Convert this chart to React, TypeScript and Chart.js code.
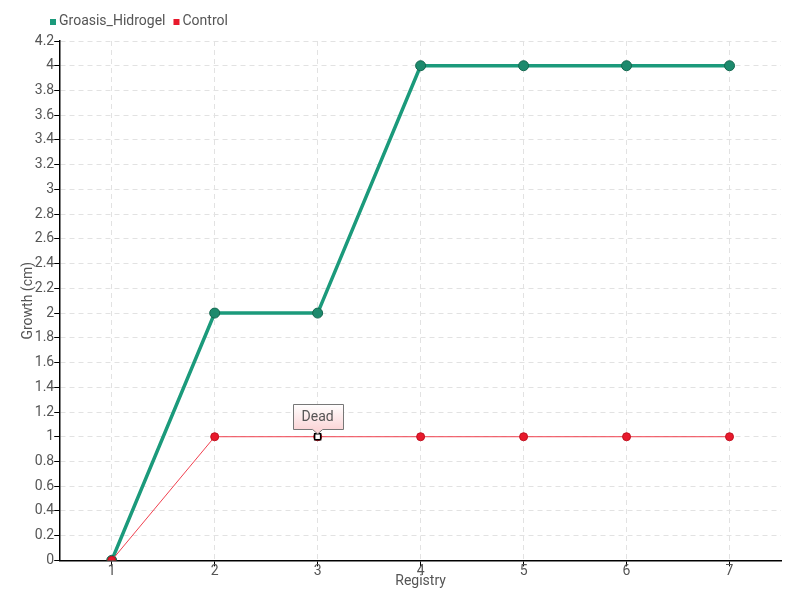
import React, { useEffect, useRef } from "react";
import { Chart, registerables } from "chart.js";

Chart.register(...registerables);

const categories = ["1", "2", "3", "4", "5", "6", "7"];
const groasisValues = [0, 2, 2, 4, 4, 4, 4];
const controlValues = [0, 1, 1, 1, 1, 1, 1];
const annotationIndex = 2;
const annotationText = "Dead";

const FONT = "Roboto, 'Liberation Sans Narrow', 'DejaVu Sans Condensed', sans-serif";
const TEXT = "#555";

const annotationPlugin = {
  id: "deadNote",
  afterDatasetsDraw(chart: any) {
    const { ctx, scales } = chart;
    const x = scales.x.getPixelForValue(annotationIndex);
    const y = scales.y.getPixelForValue(controlValues[annotationIndex]);
    ctx.save();
    ctx.fillStyle = "#fff";
    ctx.strokeStyle = "#000";
    ctx.lineWidth = 1.5;
    ctx.fillRect(x - 3, y - 3, 6, 6);
    ctx.strokeRect(x - 3, y - 3, 6, 6);
    const w = 50, h = 25;
    const bx = Math.round(x - w / 2);
    const by = Math.round(y - 33);
    const grad = ctx.createLinearGradient(0, by, 0, by + h);
    grad.addColorStop(0, "#ffffff");
    grad.addColorStop(1, "#fbd6d8");
    ctx.beginPath();
    ctx.moveTo(bx + 0.5, by + 0.5);
    ctx.lineTo(bx + w + 0.5, by + 0.5);
    ctx.lineTo(bx + w + 0.5, by + h + 0.5);
    ctx.lineTo(x + 5, by + h + 0.5);
    ctx.lineTo(x, by + h + 5);
    ctx.lineTo(x - 5, by + h + 0.5);
    ctx.lineTo(bx + 0.5, by + h + 0.5);
    ctx.closePath();
    ctx.fillStyle = grad;
    ctx.fill();
    ctx.strokeStyle = "#777";
    ctx.lineWidth = 1;
    ctx.stroke();
    ctx.fillStyle = "#555";
    ctx.font = `14px ${FONT}`;
    ctx.textAlign = "center";
    ctx.textBaseline = "middle";
    ctx.fillText(annotationText, x, by + h / 2 + 1);
    ctx.restore();
  },
};

const legendPlugin = {
  id: "topLegend",
  afterDraw(chart: any) {
    const { ctx } = chart;
    ctx.save();
    ctx.font = `14px ${FONT}`;
    ctx.textBaseline = "middle";
    ctx.textAlign = "left";
    let x = 50;
    const y = 21;
    chart.data.datasets.forEach((ds: any) => {
      ctx.fillStyle = ds.backgroundColor;
      ctx.fillRect(x, y - 2, 6, 6);
      x += 9;
      ctx.fillStyle = TEXT;
      ctx.fillText(ds.label, x, y);
      x += ctx.measureText(ds.label).width + 8;
    });
    ctx.restore();
  },
};

export default function App() {
  const canvasRef = useRef<HTMLCanvasElement | null>(null);

  useEffect(() => {
    document.body.style.margin = "0";
    const canvas = canvasRef.current;
    if (!canvas) return;
    const chart = new Chart(canvas, {
      type: "line",
      data: {
        labels: categories,
        datasets: [
          {
            label: "Groasis_Hidrogel",
            data: groasisValues,
            borderColor: "#1b9a7b",
            backgroundColor: "#1b9a7b",
            borderWidth: 3.5,
            pointRadius: 5,
            pointBackgroundColor: "#1d8a6d",
            pointBorderColor: "#14684f",
            pointBorderWidth: 1,
            tension: 0,
            order: 1,
          },
          {
            label: "Control",
            data: controlValues,
            borderColor: "#f0404f",
            backgroundColor: "#e8192c",
            borderWidth: 1,
            pointRadius: 4,
            pointBackgroundColor: "#e8192c",
            pointBorderColor: "#c0101f",
            pointBorderWidth: 1,
            tension: 0,
            order: 0,
          },
        ],
      },
      options: {
        animation: false,
        responsive: false,
        layout: { padding: { top: 41, right: 19, left: 20, bottom: 10 } },
        plugins: {
          tooltip: { enabled: false },
          legend: { display: false },
        },
        scales: {
          x: {
            offset: true,
            grid: {
              offset: false,
              color: "#e2e2e2",
              lineWidth: 1,
              tickColor: "#000",
              tickLength: 6,
              tickBorderDash: [],
            },
            border: { color: "#000", width: 1.5, dash: [5, 4] },
            ticks: { color: TEXT, font: { family: FONT, size: 14 }, padding: -3 },
            title: {
              display: true,
              text: "Registry",
              color: TEXT,
              font: { family: FONT, size: 14 },
              padding: { top: -4, bottom: 0 },
            },
          },
          y: {
            min: 0,
            max: 4.2,
            ticks: {
              stepSize: 0.2,
              color: TEXT,
              font: { family: FONT, size: 14 },
              padding: 0,
              callback: (v: any) => String(Math.round(Number(v) * 10) / 10),
            },
            grid: {
              color: "#e2e2e2",
              lineWidth: 1,
              tickColor: "#000",
              tickLength: 6,
              tickBorderDash: [],
            },
            border: { color: "#000", width: 1.5, dash: [5, 4] },
            title: {
              display: true,
              text: "Growth (cm)",
              color: TEXT,
              font: { family: FONT, size: 14 },
              padding: { top: 0, bottom: -2 },
            },
          },
        },
      },
      plugins: [annotationPlugin, legendPlugin],
    } as any);
    return () => chart.destroy();
  }, []);

  return (
    <div style={{ position: "fixed", left: 0, top: 0, width: 800, height: 600 }}>
      <canvas ref={canvasRef} width={800} height={600} />
    </div>
  );
}
